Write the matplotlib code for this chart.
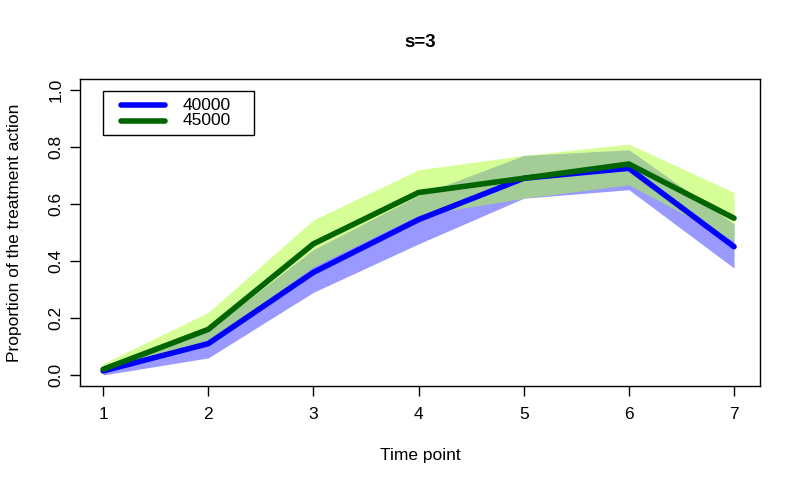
import matplotlib
matplotlib.use('Agg')
import matplotlib.pyplot as plt
from matplotlib.patches import Rectangle

plt.rcParams['font.family'] = ['Liberation Sans', 'DejaVu Sans']

time = [1, 2, 3, 4, 5, 6, 7]

mean_40000 = [0.014, 0.11, 0.36, 0.545, 0.69, 0.725, 0.45]
low_40000 = [0.0, 0.06, 0.29, 0.46, 0.62, 0.65, 0.375]
high_40000 = [0.03, 0.155, 0.44, 0.63, 0.77, 0.79, 0.53]

mean_45000 = [0.02, 0.16, 0.46, 0.64, 0.69, 0.74, 0.55]
low_45000 = [0.005, 0.115, 0.38, 0.56, 0.62, 0.667, 0.47]
high_45000 = [0.04, 0.22, 0.544, 0.72, 0.77, 0.81, 0.64]

labels = ['40000', '45000']
colors = ['blue', 'darkgreen']

fig = plt.figure(figsize=(8, 4.84), dpi=100)
ax = fig.add_axes([0.1, 0.2025, 0.85, 0.6345])

ax.fill_between(time, low_40000, high_40000, color='blue', alpha=0.4, linewidth=0)
ax.fill_between(time, low_45000, high_45000, color='greenyellow', alpha=0.5, linewidth=0)
ax.plot(time, mean_40000, color=colors[0], linewidth=4, solid_capstyle='round')
ax.plot(time, mean_45000, color=colors[1], linewidth=4, solid_capstyle='round')

ax.set_xlim(0.78, 7.247)
ax.set_ylim(-0.0386, 1.0386)
ax.set_xticks(time)
ax.set_yticks([0, 0.2, 0.4, 0.6, 0.8, 1.0])
ax.set_yticklabels(['0.0', '0.2', '0.4', '0.6', '0.8', '1.0'], rotation=90, va='center')
ax.tick_params(direction='out', length=7, width=1, labelsize=12.5, pad=8)
ax.tick_params(axis='y', pad=5)
for s in ax.spines.values():
    s.set_linewidth(1)

ax.set_xlabel('Time point', fontsize=12.5, labelpad=19)
ax.set_ylabel('Proportion of the treatment action', fontsize=12.5, labelpad=19)
fig.text(0.525, 0.913, 's=3', ha='center', va='center', fontsize=13.5, fontweight='bold')

# legend drawn by hand, R style box
ax.add_patch(Rectangle((0.0338, 0.818), 0.222, 0.143, transform=ax.transAxes,
                       facecolor='white', edgecolor='black', linewidth=1, zorder=5))
for i, (lab, col) in enumerate(zip(labels, colors)):
    yy = 0.914 - i * 0.051
    ax.plot([0.0603, 0.125], [yy, yy], transform=ax.transAxes, color=col,
            linewidth=4, solid_capstyle='round', zorder=6)
    ax.text(0.1515, yy, lab, transform=ax.transAxes, fontsize=12.5,
            va='center', ha='left', zorder=6)

plt.savefig('out.png')
